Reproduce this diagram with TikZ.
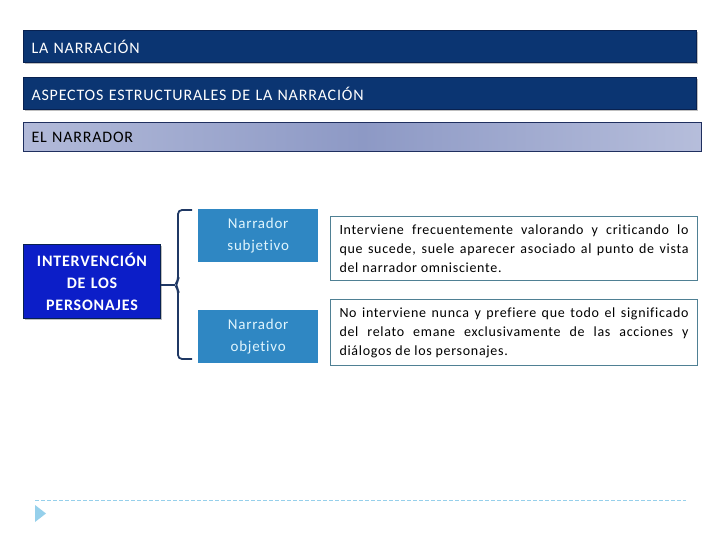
\documentclass[tikz,border=0pt]{standalone}
\usepackage{fontspec}
\usepackage{tikz}
\usepackage{xcolor}
\usetikzlibrary{shadows}
\setmainfont{Carlito}
\newfontfamily\spaced{Carlito}[LetterSpace=5, Ligatures=NoCommon]
\newfontfamily\spacedbody{Carlito}[LetterSpace=5, Ligatures=NoCommon]
\newcommand\nospaceshrink{\spaceskip=\fontdimen2\font plus 3\fontdimen3\font\relax
    \hyphenpenalty=10000\exhyphenpenalty=10000}

\definecolor{navy}{RGB}{11,53,114}
\definecolor{navyedge}{RGB}{8,33,80}
\definecolor{greyblueL}{RGB}{178,186,217}
\definecolor{greyblueM}{RGB}{141,153,197}
\definecolor{greyedge}{RGB}{31,47,95}
\definecolor{brightblue}{RGB}{12,30,200}
\definecolor{steel}{RGB}{47,135,195}
\definecolor{tealedge}{RGB}{79,128,148}
\definecolor{bracecol}{RGB}{31,56,100}
\definecolor{paleblue}{RGB}{150,208,235}

\begin{document}
\begin{tikzpicture}[x=1pt, y=-1pt,
    every node/.style={anchor=north west, inner xsep=8pt, align=left},
    titlebox/.style={draw=navyedge, line width=1pt, fill=navy, text=white,
        minimum width=673pt, minimum height=32pt, text width=657pt,
        drop shadow={shadow xshift=1.5pt, shadow yshift=-1.5pt, opacity=0.5},
        font=\spaced\fontsize{16}{19}\selectfont},
    kindbox/.style={fill=steel, text=white!88!cyan, minimum width=120pt,
        minimum height=53pt, text width=104pt, align=center,
        font=\spaced\fontsize{15}{22}\selectfont},
    infobox/.style={draw=tealedge, line width=1pt, minimum width=367pt,
        inner xsep=9pt, text width=349pt, align=justify,
        font=\spacedbody\fontsize{14}{19}\selectfont\nospaceshrink}]
    \useasboundingbox (0,0) rectangle (720,540);

    % Headings
    \node[titlebox] (narracion) at (23,30) {LA NARRACIÓN};
    \node[titlebox] (aspectos) at (23,77) {ASPECTOS ESTRUCTURALES DE LA NARRACIÓN};
    \node[draw=greyedge, line width=1pt, shading=axis, left color=greyblueL,
        right color=greyblueL!95!white, middle color=greyblueM, minimum width=678pt,
        minimum height=29pt, text width=662pt,
        font=\spaced\fontsize{16}{19}\selectfont] (narrador) at (23,122) {EL NARRADOR};

    % Left box
    \node[draw=navyedge, line width=1pt, fill=brightblue, text=white,
        minimum width=137pt, minimum height=74pt, text width=121pt, align=center,
        drop shadow={shadow xshift=1.5pt, shadow yshift=-1.5pt, opacity=0.5},
        font=\spaced\bfseries\fontsize{16}{22}\selectfont] (intervencion) at (23,244)
        {INTERVENCIÓN\\DE LOS\\PERSONAJES};

    % Kinds of narrator
    \node[kindbox] (subjetivo) at (198,209) {Narrador\\subjetivo};
    \node[kindbox] (objetivo) at (198,310) {Narrador\\objetivo};

    \node[infobox, minimum height=64pt] (textsub) at (330,216)
        {Interviene frecuentemente valorando y criticando lo que sucede, suele aparecer asociado al punto de vista del narrador omnisciente.};
    \node[infobox, minimum height=66pt] (textobj) at (330,299)
        {No interviene nunca y prefiere que todo el significado del relato emane exclusivamente de las acciones y diálogos de los personajes.};

    % Brace
    \coordinate (tip) at (175,285);
    \draw[bracecol, line width=1.8pt, rounded corners=4pt]
        (192,210) -- (178,210) -- (178,281) -- (tip)
        -- (178,289) -- (178,359) -- (192,359);
    \draw[bracecol, line width=1.8pt] (intervencion.east |- tip) -- (tip);

    % Footer
    \draw[paleblue, line width=1pt, dash pattern=on 4pt off 2pt] (35,500) -- (686,500);
    \fill[paleblue] (35,505) -- (46,513.5) -- (35,522) -- cycle;
\end{tikzpicture}
\end{document}
